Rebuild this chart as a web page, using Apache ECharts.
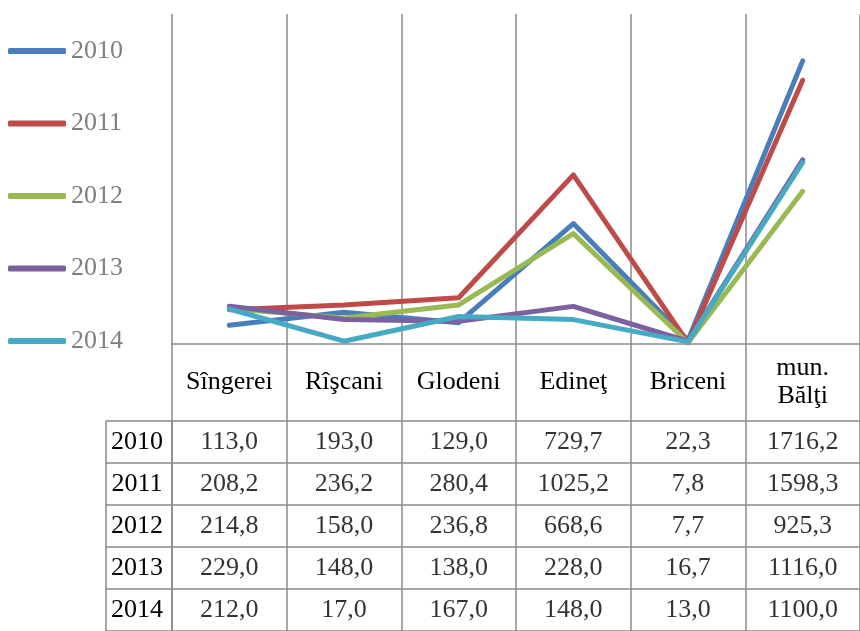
<!DOCTYPE html>
<html>
<head>
<meta charset="utf-8">
<script src="https://cdn.jsdelivr.net/npm/echarts@6/dist/echarts.min.js"></script>
<style>html,body{margin:0;padding:0;background:#fff}#c{width:860px;height:631px}</style>
</head>
<body>
<div id="c"></div>
<script>
var categories = ['Sîngerei', 'Rîşcani', 'Glodeni', 'Edineţ', 'Briceni', 'mun.\nBălţi'];
var years = ['2010', '2011', '2012', '2013', '2014'];
var v2010 = [113.0, 193.0, 129.0, 729.7, 22.3, 1716.2];
var v2011 = [208.2, 236.2, 280.4, 1025.2, 7.8, 1598.3];
var v2012 = [214.8, 158.0, 236.8, 668.6, 7.7, 925.3];
var v2013 = [229.0, 148.0, 138.0, 228.0, 16.7, 1116.0];
var v2014 = [212.0, 17.0, 167.0, 148.0, 13.0, 1100.0];
var seriesValues = [v2010, v2011, v2012, v2013, v2014];
var colors = ['#4a7ebb', '#be4b48', '#98b954', '#7d60a0', '#46aac5'];

var FONT = "'Liberation Serif', 'Times New Roman', serif";
var GRID_COLOR = '#8a8a8a';
var GL = 172, GW = 694;

var cellData = [];
seriesValues.forEach(function (arr, yi) {
  arr.forEach(function (v, ci) { cellData.push([ci, yi, v]); });
});

var lineSeries = seriesValues.map(function (arr, i) {
  return {
    name: years[i], type: 'line', xAxisIndex: 0, yAxisIndex: 0,
    data: arr, symbol: 'none', smooth: false,
    lineStyle: { width: 5, color: colors[i], cap: 'round', join: 'round' },
    itemStyle: { color: colors[i] }
  };
});

var option = {
  animation: false,
  backgroundColor: '#fff',
  legend: {
    data: years, orient: 'vertical', left: 3, top: 33,
    icon: 'roundRect', itemWidth: 58, itemHeight: 6, itemGap: 46.5,
    textStyle: { fontFamily: FONT, fontSize: 26, color: '#7f7f7f' }
  },
  grid: [
    { left: GL, width: GW, top: 14, height: 330 },
    { left: GL, width: GW, top: 344, height: 300 },
    { left: GL, width: GW, top: 420.7, height: 214 },
    { left: 106, width: 66, top: 420.7, height: 214 }
  ],
  xAxis: [
    { gridIndex: 0, type: 'category', data: categories, boundaryGap: true,
      axisLine: { show: true, lineStyle: { color: GRID_COLOR, width: 1.5 } },
      axisTick: { show: false },
      axisLabel: { interval: 0, margin: 38, verticalAlign: 'middle', fontFamily: FONT, fontSize: 26, lineHeight: 28, color: '#000' },
      splitLine: { show: true, lineStyle: { color: GRID_COLOR, width: 1.5 } } },
    { gridIndex: 1, type: 'category', data: categories, boundaryGap: true,
      axisLine: { show: false }, axisTick: { show: false }, axisLabel: { show: false },
      splitLine: { show: true, lineStyle: { color: GRID_COLOR, width: 1.5 } } },
    { gridIndex: 2, type: 'category', data: categories, boundaryGap: true, show: false },
    { gridIndex: 3, type: 'category', data: [''], boundaryGap: true,
      axisLine: { show: false }, axisTick: { show: false }, axisLabel: { show: false },
      splitLine: { show: true, lineStyle: { color: GRID_COLOR, width: 1.5 } } }
  ],
  yAxis: [
    { gridIndex: 0, type: 'value', min: 0, max: 2000, show: false },
    { gridIndex: 1, type: 'value', min: 0, max: 1, show: false },
    { gridIndex: 2, type: 'category', data: years, inverse: true, boundaryGap: true,
      axisLine: { show: false }, axisTick: { show: false },
      axisLabel: { interval: 0, margin: 35, align: 'center', fontFamily: FONT, fontSize: 26, color: '#000' },
      splitLine: { show: true, lineStyle: { color: GRID_COLOR, width: 1.5 } } },
    { gridIndex: 3, type: 'category', data: years, inverse: true, boundaryGap: true,
      axisLine: { show: false }, axisTick: { show: false }, axisLabel: { show: false },
      splitLine: { show: true, lineStyle: { color: GRID_COLOR, width: 1.5 } } }
  ],
  series: lineSeries.concat([{
    type: 'scatter', xAxisIndex: 2, yAxisIndex: 2, data: cellData,
    symbolSize: 1, silent: true, itemStyle: { color: 'rgba(0,0,0,0)' },
    label: { show: true, position: 'inside', fontFamily: FONT, fontSize: 26, color: '#000',
      formatter: function (p) { return p.value[2].toFixed(1).replace('.', ','); } }
  }])
};
echarts.init(document.getElementById('c')).setOption(option);
</script>
</body>
</html>
